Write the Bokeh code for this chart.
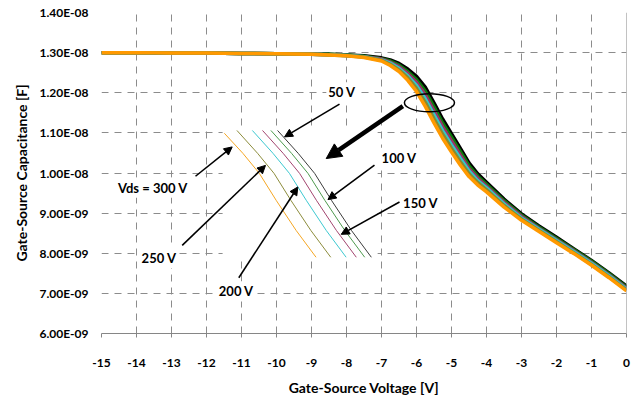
from bokeh.plotting import figure
from bokeh.models import (Range1d, FixedTicker, CustomJSTickFormatter, Span, Label,
                          Arrow, NormalHead)
from bokeh.embed import file_html
from bokeh.resources import INLINE

# ---------------- data (capacitance in units of 1e-8 F) ----------------
vgs = [-15, -14, -13, -12, -11, -10, -9, -8.5, -8, -7.5, -7, -6.75, -6.5, -6.25, -6,
       -5.75, -5.5, -5.25, -5, -4.75, -4.5, -4.25, -4, -3.5, -3, -2.5, -2, -1.5, -1, -0.5, 0]

cgs_50v = [1.300, 1.300, 1.299, 1.299, 1.298, 1.297, 1.296, 1.296, 1.294, 1.292, 1.287, 1.282,
           1.273, 1.259, 1.241, 1.214, 1.175, 1.134, 1.098, 1.062, 1.025, 0.998, 0.977, 0.935,
           0.898, 0.868, 0.840, 0.811, 0.782, 0.751, 0.718]
cgs_100v = [1.300, 1.300, 1.299, 1.299, 1.298, 1.297, 1.296, 1.296, 1.294, 1.291, 1.285, 1.279,
            1.269, 1.253, 1.233, 1.204, 1.165, 1.124, 1.089, 1.054, 1.018, 0.992, 0.972, 0.931,
            0.895, 0.865, 0.837, 0.809, 0.780, 0.749, 0.716]
cgs_150v = [1.300, 1.300, 1.299, 1.299, 1.298, 1.297, 1.296, 1.295, 1.293, 1.290, 1.284, 1.276,
            1.265, 1.248, 1.226, 1.195, 1.155, 1.115, 1.080, 1.045, 1.011, 0.987, 0.967, 0.927,
            0.892, 0.862, 0.834, 0.806, 0.777, 0.746, 0.713]
cgs_200v = [1.300, 1.300, 1.299, 1.299, 1.298, 1.297, 1.296, 1.295, 1.293, 1.290, 1.282, 1.274,
            1.261, 1.242, 1.218, 1.185, 1.145, 1.105, 1.070, 1.037, 1.005, 0.981, 0.963, 0.923,
            0.888, 0.860, 0.832, 0.804, 0.775, 0.744, 0.711]
cgs_250v = [1.300, 1.300, 1.299, 1.299, 1.298, 1.297, 1.296, 1.294, 1.292, 1.289, 1.281, 1.271,
            1.257, 1.237, 1.211, 1.176, 1.135, 1.096, 1.061, 1.028, 0.998, 0.976, 0.958, 0.919,
            0.885, 0.857, 0.829, 0.801, 0.772, 0.741, 0.708]
cgs_300v = [1.300, 1.300, 1.299, 1.299, 1.298, 1.297, 1.296, 1.294, 1.292, 1.288, 1.279, 1.268,
            1.253, 1.231, 1.203, 1.166, 1.125, 1.086, 1.052, 1.020, 0.991, 0.970, 0.953, 0.915,
            0.882, 0.854, 0.826, 0.799, 0.770, 0.739, 0.706]

series_names = ["50 V", "100 V", "150 V", "200 V", "250 V", "300 V"]
series_values = [cgs_50v, cgs_100v, cgs_150v, cgs_200v, cgs_250v, cgs_300v]
series_colors = ["#000000", "#0a7d0a", "#993366", "#33c6cc", "#8a8a2e", "#ff9900"]

# zoomed inset (illustrative close-up of the knee)
inset_y = [1.106, 1.049, 0.999, 0.932, 0.857, 0.790]
inset_y_300 = [1.099, 1.049, 0.999, 0.932, 0.857, 0.790]
inset_x_300 = [-11.49, -10.96, -10.49, -10.01, -9.44, -8.87]
inset_x_250 = [-11.13, -10.54, -10.07, -9.59, -9.02, -8.45]
inset_x_200 = [-10.69, -10.10, -9.63, -9.15, -8.58, -8.01]
inset_x_150 = [-10.40, -9.81, -9.34, -8.86, -8.29, -7.72]
inset_x_100 = [-10.16, -9.57, -9.10, -8.62, -8.05, -7.48]
inset_x_50 = [-9.97, -9.38, -8.91, -8.43, -7.86, -7.29]
inset_colors = ["#3c3c3c", "#4e9a4e", "#a3456f", "#3cc8d0", "#8c8c3c", "#f5a623"]
inset_box = dict(left=[-11.54], right=[-7.11], bottom=[0.787], top=[1.112])

x_ticks = [-15, -14, -13, -12, -11, -10, -9, -8, -7, -6, -5, -4, -3, -2, -1, 0]
x_tick_labels = ["-15", "-14", "-13", "-12", "-11", "-10", "-9", "-8", "-7", "-6",
                 "-5", "-4", "-3", "-2", "-1", "0"]
y_ticks = [0.6, 0.7, 0.8, 0.9, 1.0, 1.1, 1.2, 1.3, 1.4]
y_tick_labels = ["6.00E-09", "7.00E-09", "8.00E-09", "9.00E-09", "1.00E-08",
                 "1.10E-08", "1.20E-08", "1.30E-08", "1.40E-08"]

FONT = "Lato"
GRID = "#8c8c8c"
AXIS = "#868686"

NEAREST = """
    let best = 0;
    for (let i = 0; i < tvals.length; i++) {
        if (Math.abs(tvals[i] - tick) < Math.abs(tvals[best] - tick)) best = i;
    }
    return tlabels[best];
"""

p = figure(width=636, height=398, output_backend="svg", toolbar_location=None,
           x_range=Range1d(-15, 0), y_range=Range1d(0.6, 1.4),
           min_border_left=101, min_border_right=10, min_border_top=12, min_border_bottom=65)
p.outline_line_color = None
p.background_fill_color = "white"
p.border_fill_color = "white"

# grids
p.grid.grid_line_color = GRID
p.grid.grid_line_dash = "7 6"
p.grid.grid_line_width = 1
p.grid.grid_line_alpha = 1.0

# x axis
xa = p.xaxis[0]
xa.ticker = FixedTicker(ticks=x_ticks)
xa.formatter = CustomJSTickFormatter(args=dict(tvals=x_ticks, tlabels=x_tick_labels), code=NEAREST)
xa.axis_label = "Gate-Source Voltage [V]"
xa.axis_line_color = AXIS
xa.major_tick_line_color = AXIS
xa.major_tick_out = 4
xa.major_tick_in = 0
xa.minor_tick_line_color = None
xa.major_label_standoff = 21
xa.axis_label_standoff = 9
xa.major_label_text_font = FONT
xa.major_label_text_font_style = "bold"
xa.major_label_text_font_size = "12px"
xa.major_label_text_color = "black"
xa.axis_label_text_font = FONT
xa.axis_label_text_font_style = "bold"
xa.axis_label_text_font_size = "14px"
xa.axis_label_text_color = "black"

# y axis
ya = p.yaxis[0]
ya.ticker = FixedTicker(ticks=y_ticks)
ya.formatter = CustomJSTickFormatter(args=dict(tvals=y_ticks, tlabels=y_tick_labels), code=NEAREST)
ya.axis_label = "Gate-Source Capacitance [F]"
ya.axis_line_color = None
ya.major_tick_line_color = None
ya.minor_tick_line_color = None
ya.major_tick_out = 0
ya.major_tick_in = 0
ya.major_label_standoff = 13
ya.axis_label_standoff = 6
ya.major_label_text_font = FONT
ya.major_label_text_font_style = "bold"
ya.major_label_text_font_size = "12px"
ya.major_label_text_color = "black"
ya.axis_label_text_font = FONT
ya.axis_label_text_font_style = "bold"
ya.axis_label_text_font_size = "14px"
ya.axis_label_text_color = "black"

# vertical axis line at x = 0 (right edge)
p.add_layout(Span(location=0, dimension="height", line_color=AXIS, line_width=1))

# white inset background (covers the grid behind the close-up)
p.quad(left=inset_box["left"], right=inset_box["right"], bottom=inset_box["bottom"],
       top=inset_box["top"], fill_color="white", line_color=None)

# main measured curves (dense markers in the original -> thick lines)
for vals, col in zip(series_values, series_colors):
    p.line(vgs, vals, line_color=col, line_width=3.5)

# inset curves
inset_xs = [inset_x_50, inset_x_100, inset_x_150, inset_x_200, inset_x_250, inset_x_300]
inset_ys = [inset_y, inset_y, inset_y, inset_y, inset_y, inset_y_300]
for xs, ys, col in zip(inset_xs, inset_ys, inset_colors):
    p.line(xs, ys, line_color=col, line_width=1)

# ellipse around the split region
p.ellipse(x=[-5.63], y=[1.175], width=1.43, height=0.045, fill_color=None,
          line_color="black", line_width=1.5)

# arrows
arrows = [
    (-8.20, 1.1716, -9.77, 1.090),    # 50 V
    (-7.20, 1.0195, -8.53, 0.9337),   # 100 V
    (-6.486, 0.9277, -8.151, 0.8471), # 150 V
    (-11.077, 0.739, -9.391, 0.9652), # 200 V
    (-12.694, 0.8196, -10.314, 1.019),# 250 V
    (-12.314, 0.9919, -11.266, 1.065),# 300 V
]
for xs, ys, xe, ye in arrows:
    p.add_layout(Arrow(x_start=xs, y_start=ys, x_end=xe, y_end=ye, line_width=1.6,
                       line_color="black",
                       end=NormalHead(size=8, fill_color="black", line_color="black")))
p.add_layout(Arrow(x_start=-6.39, y_start=1.1666, x_end=-8.58, y_end=1.036, line_width=4.5,
                   line_color="black",
                   end=NormalHead(size=15, fill_color="black", line_color="black")))

# labels
labels = [
    ("50 V", -8.13, 1.2015),
    ("100 V", -6.50, 1.038),
    ("150 V", -5.886, 0.9257),
    ("Vds = 300 V", -13.534, 0.9632),
    ("250 V", -13.357, 0.7884),
    ("200 V", -11.151, 0.7048),
]
for txt, lx, ly in labels:
    p.add_layout(Label(x=lx, y=ly, text=txt, text_font=FONT, text_font_style="bold",
                       text_font_size="13px", text_color="black", text_align="center",
                       text_baseline="middle", background_fill_color="white", padding=2))

open("out.html", "w").write(file_html(p, INLINE))
